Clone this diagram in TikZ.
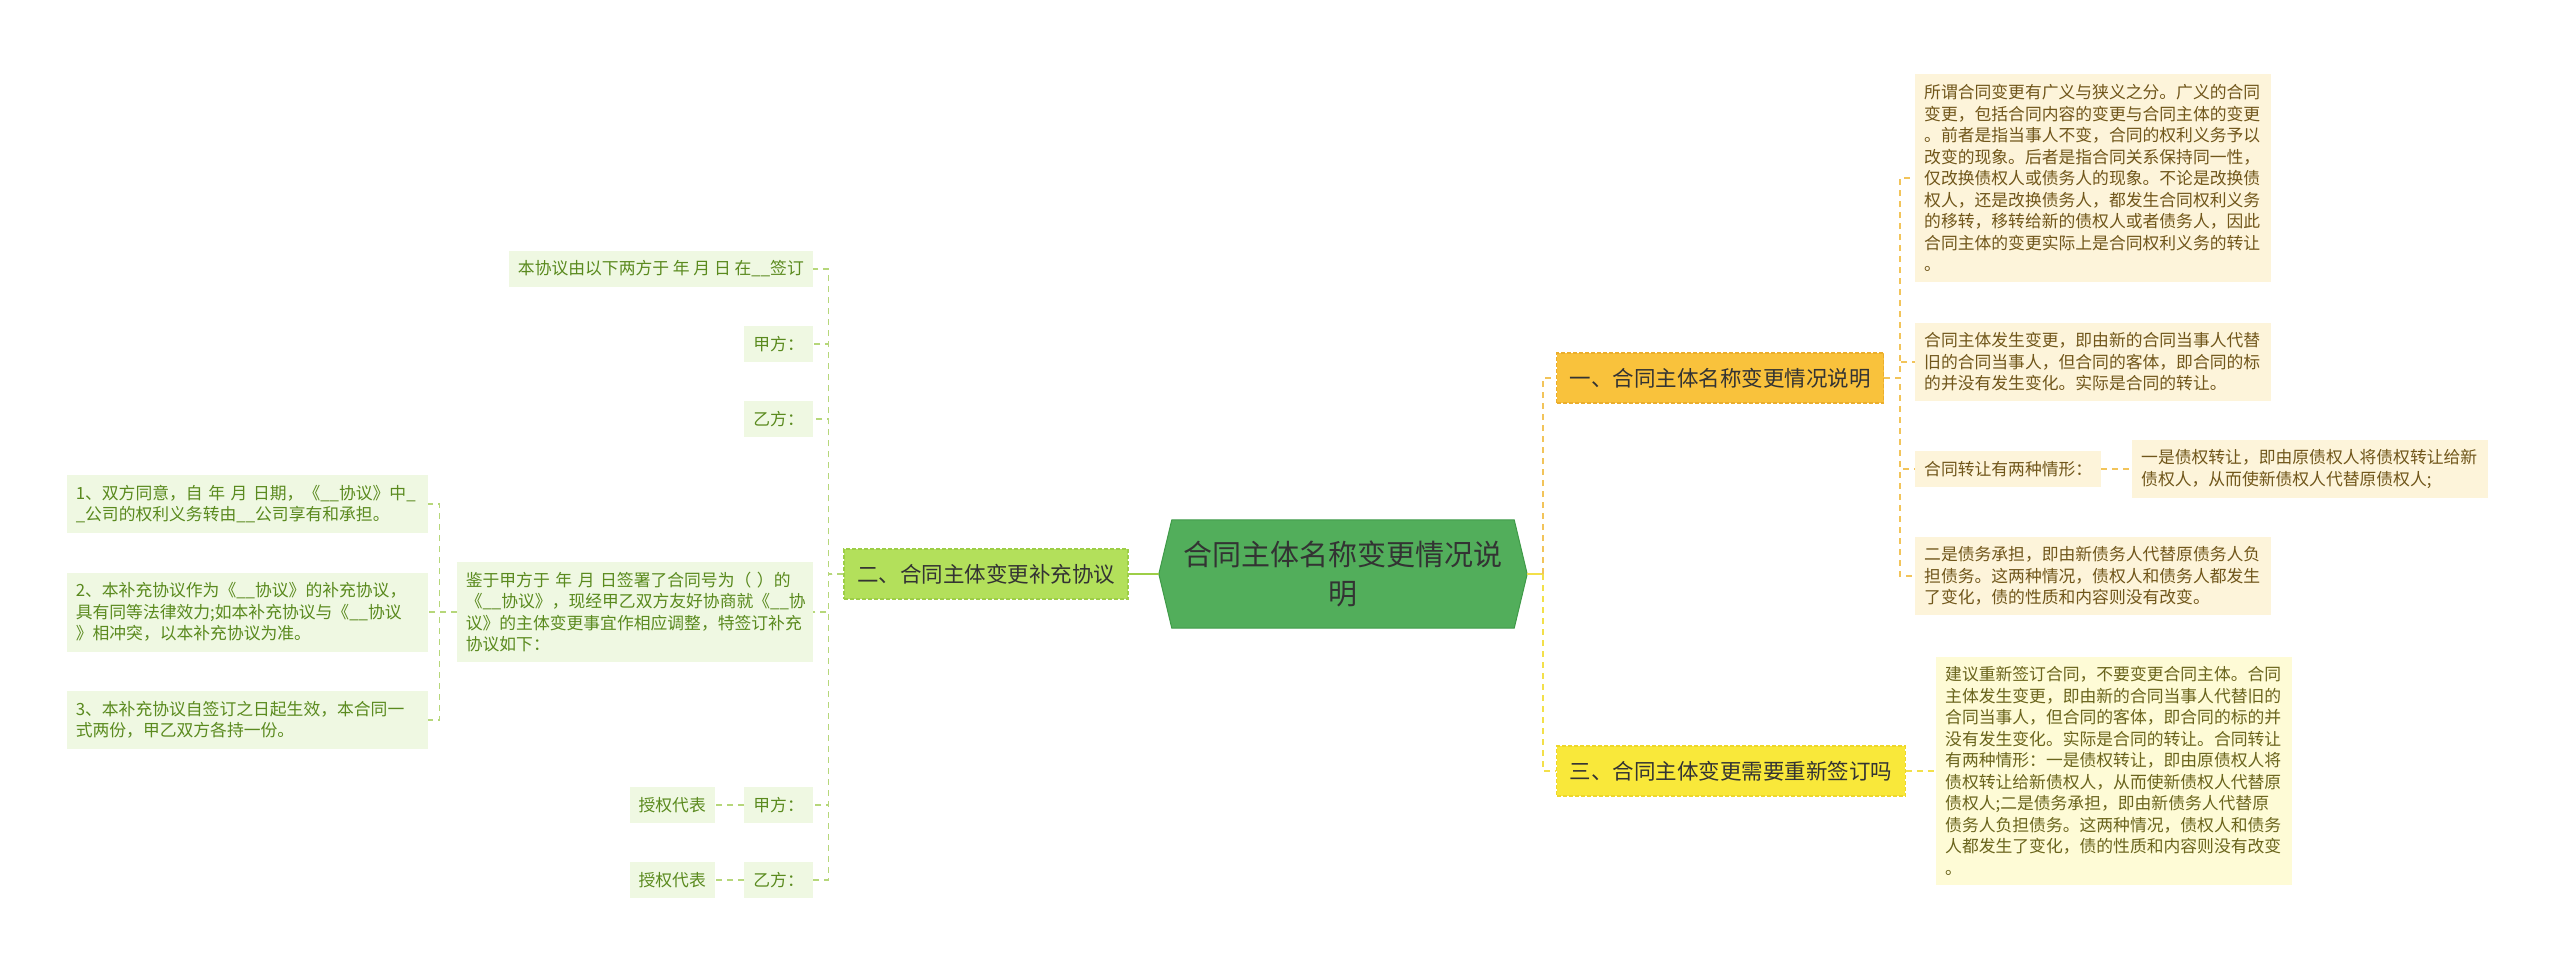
\documentclass[tikz,border=0pt]{standalone}
\usepackage{fontspec}
\setmainfont{Noto Sans CJK SC}
\usepackage{tikz}
\usetikzlibrary{positioning,calc,backgrounds}

\definecolor{maingreen}{HTML}{52AE5B}
\definecolor{mainedge}{HTML}{3F9A48}
\definecolor{orangebox}{HTML}{F9C23C}
\definecolor{orangeedge}{HTML}{EBAE2C}
\definecolor{yellowbox}{HTML}{F9E83A}
\definecolor{yellowedge}{HTML}{EED72A}
\definecolor{limebox}{HTML}{B3E05B}
\definecolor{limeedge}{HTML}{9DCE47}
\definecolor{creamfill}{HTML}{FDF4DA}
\definecolor{creamtext}{HTML}{70561A}
\definecolor{paleyellow}{HTML}{FEFBD6}
\definecolor{olivetext}{HTML}{6A641C}
\definecolor{palegreen}{HTML}{EFF8E2}
\definecolor{greentext}{HTML}{5A8A1E}
\definecolor{orangeline}{HTML}{F2C45A}
\definecolor{yellowline}{HTML}{F3E04A}
\definecolor{greenline}{HTML}{B6D77A}

\begin{document}
\begin{tikzpicture}[x=1pt,y=-1pt,
  topic/.style={text=black!80, font=\fontsize{21.5}{26}\selectfont, minimum height=50pt, inner xsep=13pt, dash pattern=on 4pt off 2pt, line width=1.2pt},
  leaf/.style={font=\fontsize{16.8}{21.5}\selectfont, align=left, inner xsep=9pt, inner ysep=10pt},
  cream/.style={leaf, fill=creamfill, text=creamtext},
  pale/.style={leaf, fill=paleyellow, text=olivetext},
  lgreen/.style={leaf, fill=palegreen, text=greentext},
  wide/.style={text width=338pt},
  rlink/.style={orangeline, line width=1.6pt, dash pattern=on 6pt off 5pt},
  llink/.style={greenline, line width=1.6pt, dash pattern=on 6pt off 5pt}]
\useasboundingbox (0,0) rectangle (2560,972);

% centre
\node[minimum width=368pt, minimum height=108pt, align=center, text=black!80,
  font=\fontsize{29}{39}\selectfont] (main) at (1343,574) {合同主体名称变更情况说\\明};
\begin{scope}[on background layer]
\filldraw[fill=maingreen, draw=mainedge, line width=1pt] (main.west) -- ([xshift=13pt]main.north west)
  -- ([xshift=-13pt]main.north east) -- (main.east) -- ([xshift=-13pt]main.south east)
  -- ([xshift=13pt]main.south west) -- cycle;
\end{scope}

% topics
\node[topic, fill=orangebox, draw=orangeedge] (b1) at (1720,378) {一、合同主体名称变更情况说明};
\node[topic, fill=yellowbox, draw=yellowedge] (b3) at (1731,771) {三、合同主体变更需要重新签订吗};
\node[topic, fill=limebox, draw=limeedge] (b2) at (986,574) {二、合同主体变更补充协议};

% right leaves
\node[cream, wide, anchor=west] (c1) at (1915,178) {所谓合同变更有广义与狭义之分。广义的合同\\%
变更，包括合同内容的变更与合同主体的变更\\%
。前者是指当事人不变，合同的权利义务予以\\%
改变的现象。后者是指合同关系保持同一性，\\%
仅改换债权人或债务人的现象。不论是改换债\\%
权人，还是改换债务人，都发生合同权利义务\\%
的移转，移转给新的债权人或者债务人，因此\\%
合同主体的变更实际上是合同权利义务的转让\\%
。};
\node[cream, wide, anchor=west] (c2) at (1915,362) {合同主体发生变更，即由新的合同当事人代替\\%
旧的合同当事人，但合同的客体，即合同的标\\%
的并没有发生变化。实际是合同的转让。};
\node[cream, anchor=west] (c3) at (1915,469) {合同转让有两种情形：};
\node[cream, wide, anchor=west] (c3a) at (2132,469) {一是债权转让，即由原债权人将债权转让给新\\%
债权人，从而使新债权人代替原债权人;};
\node[cream, wide, anchor=west] (c4) at (1915,576) {二是债务承担，即由新债务人代替原债务人负\\%
担债务。这两种情况，债权人和债务人都发生\\%
了变化，债的性质和内容则没有改变。};
\node[pale, wide, anchor=west] (d1) at (1936,771) {建议重新签订合同，不要变更合同主体。合同\\%
主体发生变更，即由新的合同当事人代替旧的\\%
合同当事人，但合同的客体，即合同的标的并\\%
没有发生变化。实际是合同的转让。合同转让\\%
有两种情形：一是债权转让，即由原债权人将\\%
债权转让给新债权人，从而使新债权人代替原\\%
债权人;二是债务承担，即由新债务人代替原\\%
债务人负担债务。这两种情况，债权人和债务\\%
人都发生了变化，债的性质和内容则没有改变\\%
。};

% left leaves
\node[lgreen, anchor=east] (l1) at (813,269) {本协议由以下两方于 年 月 日 在\_\_签订};
\node[lgreen, anchor=east] (l2) at (813,344) {甲方：};
\node[lgreen, anchor=east] (l3) at (813,419) {乙方：};
\node[lgreen, wide, anchor=east] (l4) at (813,612) {鉴于甲方于 年 月 日签署了合同号为（ ）的\\%
《\_\_协议》，现经甲乙双方友好协商就《\_\_协\\%
议》的主体变更事宜作相应调整，特签订补充\\%
协议如下：};
\node[lgreen, anchor=east] (l5) at (813,805) {甲方：};
\node[lgreen, anchor=east] (l6) at (813,880) {乙方：};
\node[lgreen, anchor=east] (a5) at (715,805) {授权代表};
\node[lgreen, anchor=east] (a6) at (715,880) {授权代表};
\node[lgreen, text width=343pt, anchor=east] (k1) at (428,504) {1、双方同意，自 年 月 日期，《\_\_协议》中\_\\%
\_公司的权利义务转由\_\_公司享有和承担。};
\node[lgreen, text width=343pt, anchor=east] (k2) at (428,612) {2、本补充协议作为《\_\_协议》的补充协议，\\%
具有同等法律效力;如本补充协议与《\_\_协议\\%
》相冲突，以本补充协议为准。};
\node[lgreen, text width=343pt, anchor=east] (k3) at (428,720) {3、本补充协议自签订之日起生效，本合同一\\%
式两份，甲乙双方各持一份。};

% links from the centre
\draw[yellowline, line width=2.5pt] (main.east) -- ++(16,0) coordinate (rj);
\draw[rlink, line width=2.2pt] (rj) |- (b1.west);
\draw[rlink, yellowline, line width=2.2pt] (rj) |- (b3.west);
\draw[limeedge, line width=2.5pt] (main.west) -- (b2.east);

% right links
\foreach \leaf in {c1,c2,c3,c4}
  \draw[rlink] (b1.east) -- ++(16,0) |- (\leaf.west);
\draw[rlink] (c3.east) -- (c3a.west);
\draw[rlink, yellowline] (b3.east) -- (d1.west);

% left links
\foreach \leaf in {l1,l2,l3,l4,l5,l6}
  \draw[llink] (b2.west) -- ++(-15,0) |- (\leaf.east);
\foreach \leaf in {k1,k2,k3}
  \draw[llink] (l4.west) -- ++(-17,0) |- (\leaf.east);
\draw[llink] (l5.west) -- (a5.east);
\draw[llink] (l6.west) -- (a6.east);
\end{tikzpicture}
\end{document}
